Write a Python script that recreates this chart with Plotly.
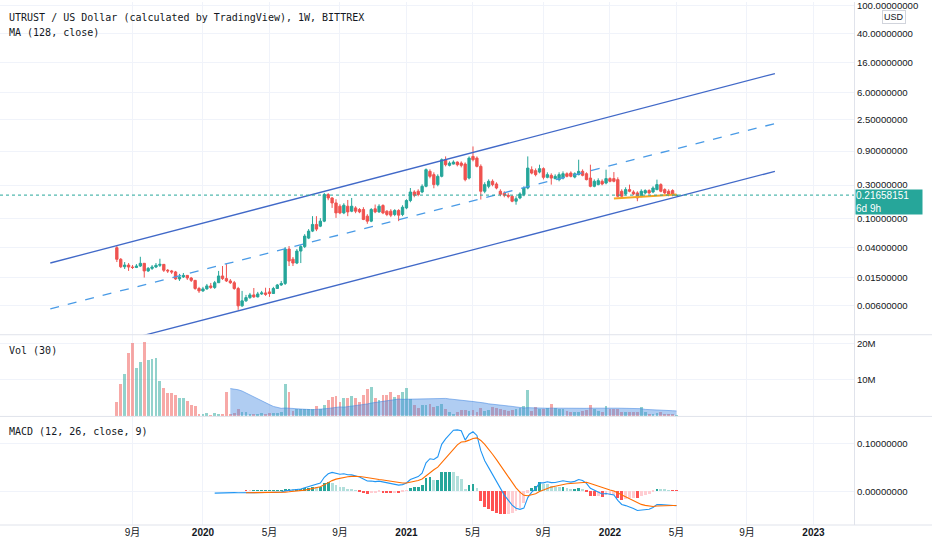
import numpy as np
import pandas as pd
import plotly.graph_objects as go
from plotly.subplots import make_subplots

# ---------------- data (weekly) ----------------
first_week = "2019-08-05"

open_ = [0.0394, 0.0271, 0.0213, 0.0225, 0.0211, 0.0208, 0.0218, 0.0238, 0.0186, 0.0202,
         0.0211, 0.0223, 0.0230, 0.0190, 0.0186, 0.0180, 0.01435, 0.0153, 0.0161, 0.0148,
         0.0137, 0.01053, 0.00974, 0.0104, 0.01145, 0.0109, 0.0127, 0.0158, 0.0145, 0.01345,
         0.0127, 0.01053, 0.00601, 0.00706, 0.00784, 0.00856, 0.00803, 0.00883, 0.00913, 0.00943,
         0.00895, 0.01053, 0.0118, 0.0124, 0.0378, 0.0272, 0.0240, 0.0354, 0.0409, 0.0538,
         0.0675, 0.0838, 0.0793, 0.0932, 0.2203, 0.1974, 0.1680, 0.1511, 0.1217, 0.1511,
         0.1286, 0.1430, 0.1360, 0.1360, 0.1095, 0.0932, 0.1389, 0.1257, 0.1544, 0.1286,
         0.1286, 0.1156, 0.1316, 0.1156, 0.1430, 0.1817, 0.2395, 0.2451, 0.2395, 0.2880,
         0.4672, 0.4200, 0.3041, 0.3976, 0.6811, 0.5669, 0.5915, 0.6302, 0.6102, 0.5915,
         0.3761, 0.7578, 0.7169, 0.5489, 0.2451, 0.2880, 0.3384, 0.3103, 0.2451, 0.2302,
         0.2150, 0.2086, 0.1776, 0.1974, 0.2203, 0.2725, 0.4934, 0.4780, 0.4565, 0.5100,
         0.3850, 0.4106, 0.3694, 0.3574, 0.3761, 0.4326, 0.4420, 0.3885, 0.4200, 0.4672,
         0.4326, 0.3761, 0.2880, 0.3041, 0.3384, 0.3201, 0.3694, 0.3694, 0.3574, 0.2451,
         0.2248, 0.2588, 0.2395, 0.2324, 0.2086, 0.2324, 0.2507, 0.2395, 0.2588, 0.3041,
         0.2588, 0.2451, 0.2507, 0.2130]

high = [0.0416, 0.0282, 0.0248, 0.0240, 0.0225, 0.0232, 0.0294, 0.0240, 0.0211, 0.0225,
        0.0240, 0.0276, 0.0232, 0.0198, 0.0192, 0.0186, 0.0169, 0.0174, 0.0163, 0.0153,
        0.0139, 0.0111, 0.0111, 0.0122, 0.0126, 0.01345, 0.0186, 0.0218, 0.0232, 0.0143,
        0.01345, 0.0111, 0.00974, 0.00856, 0.00913, 0.0107, 0.00943, 0.00974, 0.0108, 0.0107,
        0.0111, 0.0122, 0.01345, 0.0403, 0.0416, 0.0292, 0.0378, 0.0430, 0.0612, 0.0720,
        0.1095, 0.1095, 0.1027, 0.2324, 0.2304, 0.2020, 0.1894, 0.1611, 0.1665, 0.1850,
        0.1974, 0.1511, 0.1420, 0.1464, 0.1168, 0.1420, 0.1596, 0.1611, 0.1611, 0.1328,
        0.1372, 0.1372, 0.1372, 0.1560, 0.1894, 0.2725, 0.2531, 0.2614, 0.3072, 0.5134,
        0.4983, 0.4524, 0.4244, 0.7096, 0.7578, 0.6450, 0.6661, 0.6450, 0.6450, 0.6246,
        0.7578, 1.046, 0.7578, 0.5855, 0.3276, 0.3600, 0.3600, 0.3276, 0.2614, 0.2451,
        0.2302, 0.2150, 0.2086, 0.2373, 0.2880, 0.7578, 0.5489, 0.5134, 0.5797, 0.5315,
        0.4524, 0.4380, 0.4244, 0.4524, 0.4672, 0.4524, 0.4672, 0.4524, 0.6811, 0.4983,
        0.4524, 0.5797, 0.3600, 0.3729, 0.3600, 0.4934, 0.3850, 0.4565, 0.3850, 0.2614,
        0.2789, 0.3041, 0.2531, 0.2451, 0.2614, 0.2614, 0.2614, 0.2880, 0.3574, 0.3175,
        0.2700, 0.2614, 0.2614, 0.2220]

low = [0.0248, 0.0204, 0.0198, 0.0186, 0.0198, 0.0204, 0.0211, 0.0150, 0.0180, 0.0192,
       0.0204, 0.0211, 0.0180, 0.0174, 0.0169, 0.0139, 0.01345, 0.0148, 0.0139, 0.0130,
       0.0101, 0.00913, 0.00943, 0.0101, 0.0104, 0.0104, 0.0126, 0.0139, 0.0130, 0.0122,
       0.0101, 0.00528, 0.00582, 0.00684, 0.00753, 0.00777, 0.0079, 0.00856, 0.00829, 0.00803,
       0.00884, 0.0104, 0.01145, 0.0118, 0.0218, 0.0218, 0.0232, 0.0240, 0.0390, 0.0521,
       0.0654, 0.0675, 0.0768, 0.0902, 0.1834, 0.1430, 0.1036, 0.1168, 0.1168, 0.1095,
       0.1245, 0.1206, 0.1206, 0.0963, 0.0855, 0.0902, 0.1206, 0.1220, 0.1168, 0.1095,
       0.1060, 0.1095, 0.0932, 0.1095, 0.1372, 0.1720, 0.2020, 0.2086, 0.2302, 0.2789,
       0.3729, 0.2700, 0.2880, 0.3850, 0.5489, 0.5489, 0.5855, 0.5489, 0.5315, 0.3384,
       0.3600, 0.6450, 0.5315, 0.1876, 0.2302, 0.2700, 0.2880, 0.2614, 0.2086, 0.2020,
       0.1956, 0.1720, 0.1587, 0.1894, 0.2086, 0.2614, 0.4244, 0.3976, 0.4380, 0.3600,
       0.3729, 0.3041, 0.3600, 0.3384, 0.3600, 0.3850, 0.3850, 0.3729, 0.4106, 0.3976,
       0.3495, 0.2789, 0.2789, 0.2974, 0.2974, 0.3072, 0.3276, 0.3276, 0.2020, 0.1974,
       0.2150, 0.2373, 0.2150, 0.1776, 0.2020, 0.2220, 0.2220, 0.2302, 0.2531, 0.2373,
       0.2220, 0.2086, 0.2086, 0.2086]

close_ = [0.0271, 0.0213, 0.0225, 0.0211, 0.0208, 0.0218, 0.0238, 0.0186, 0.0202, 0.0211,
          0.0223, 0.0230, 0.0190, 0.0186, 0.0180, 0.01435, 0.0153, 0.0161, 0.0148, 0.0137,
          0.01053, 0.00974, 0.0104, 0.01145, 0.0109, 0.0127, 0.0158, 0.0145, 0.01345, 0.0127,
          0.01053, 0.00601, 0.00706, 0.00784, 0.00856, 0.00803, 0.00883, 0.00913, 0.0087, 0.00895,
          0.01053, 0.0118, 0.0124, 0.0378, 0.0256, 0.0240, 0.0354, 0.0409, 0.0574, 0.0675,
          0.0838, 0.0720, 0.0932, 0.2203, 0.1974, 0.1680, 0.1217, 0.1217, 0.1560, 0.1257,
          0.1511, 0.1286, 0.1257, 0.0986, 0.0932, 0.1360, 0.1257, 0.1511, 0.1217, 0.1156,
          0.1131, 0.1316, 0.1131, 0.1464, 0.1817, 0.2395, 0.2150, 0.2203, 0.2880, 0.4934,
          0.3976, 0.3041, 0.3976, 0.6811, 0.5797, 0.6102, 0.6302, 0.5797, 0.5669, 0.3574,
          0.7169, 0.6811, 0.5489, 0.2451, 0.3041, 0.3384, 0.3041, 0.2725, 0.2220, 0.2150,
          0.2086, 0.1776, 0.1925, 0.2248, 0.2725, 0.5193, 0.4420, 0.4200, 0.5100, 0.3850,
          0.4200, 0.3761, 0.3976, 0.4200, 0.4326, 0.3976, 0.3976, 0.4326, 0.4672, 0.4106,
          0.3574, 0.2880, 0.3384, 0.3460, 0.3103, 0.3694, 0.3384, 0.3384, 0.2086, 0.2086,
          0.2588, 0.2451, 0.2248, 0.1974, 0.2451, 0.2507, 0.2324, 0.2725, 0.3041, 0.2451,
          0.2324, 0.2203, 0.2203, 0.21658]

volume_m = [3.89, 8.70, 11.76, 17.6, 20.4, 13.3, 15.0, 20.6, 15.5, 15.7,
            16.1, 9.6, 7.8, 6.2, 6.2, 5.9, 4.8, 5.0, 4.1, 3.1,
            2.8, 0.46, 0.37, 0.65, 0.19, 0.83, 0.56, 0.37, 6.7, 0.56,
            0.65, 2.0, 0.93, 0.93, 0.56, 0.6, 0.55, 0.7, 0.6, 0.75,
            0.8, 0.85, 0.9, 8.8, 6.7, 1.3, 1.85, 2.0, 1.85, 1.85,
            2.0, 2.7, 2.0, 3.1, 4.3, 5.3, 5.4, 3.9, 4.8, 4.8,
            5.4, 5.0, 3.9, 5.9, 7.4, 8.1, 5.0, 4.3, 5.7, 5.9,
            6.5, 5.3, 5.9, 6.5, 7.6, 4.6, 3.0, 2.2, 3.0, 3.1,
            3.2, 2.5, 2.8, 3.4, 1.85, 0.93, 0.56, 1.1, 1.7, 1.5,
            1.3, 1.6, 1.1, 2.2, 1.3, 1.5, 2.5, 2.2, 1.85, 1.5,
            1.3, 1.6, 2.0, 2.2, 2.8, 7.1, 1.3, 2.5, 1.85, 1.85,
            2.2, 3.4, 2.2, 2.0, 2.0, 1.3, 1.1, 0.93, 1.1, 1.3,
            1.6, 3.0, 1.85, 1.3, 0.93, 2.8, 1.85, 1.85, 1.85, 0.93,
            0.93, 1.1, 1.1, 0.93, 2.4, 0.93, 0.56, 0.56, 0.75, 0.93,
            0.56, 0.56, 0.37, 0.3]

last_price = 0.21658151
countdown = "6d 9h"

# channel drawn on the chart (two anchor points per line)
channel_dates = ["2019-04-08", "2022-10-25"]
channel_upper = [0.02404, 11.09]
channel_mid = [0.005453, 2.196]
channel_lower = [0.001052, 0.467]

price_ticks = [100, 40, 16, 6, 2.5, 0.9, 0.3, 0.1, 0.04, 0.015, 0.006]
vol_ticks = [10e6, 20e6]
vol_tick_text = ["10M", "20M"]
macd_ticks = [0.0, 0.1]
x_tick_dates = ["2019-09-02", "2020-01-06", "2020-05-04", "2020-09-07", "2021-01-04",
                "2021-05-03", "2021-09-06", "2022-01-03", "2022-05-02", "2022-09-05", "2023-01-02"]
x_tick_text = ["9月", "<b>2020</b>", "5月", "9月", "<b>2021</b>", "5月", "9月",
               "<b>2022</b>", "5月", "9月", "<b>2023</b>"]

# ---------------- derived series (indicators) ----------------
dates = pd.date_range(first_week, periods=len(close_), freq="7D")
c = pd.Series(close_, index=dates)
vol = pd.Series(volume_m, index=dates) * 1e6


def ema(s, n):
    vals = s.values.astype(float)
    out = np.full(len(vals), np.nan)
    valid = np.where(~np.isnan(vals))[0]
    if len(valid) < n:
        return pd.Series(out, index=s.index)
    st = valid[0]
    out[st + n - 1] = np.mean(vals[st:st + n])
    a = 2.0 / (n + 1)
    for i in range(st + n, len(vals)):
        out[i] = a * vals[i] + (1 - a) * out[i - 1]
    return pd.Series(out, index=s.index)


macd = ema(c, 12) - ema(c, 26)
signal = ema(macd, 9)
hist = macd - signal
ma128 = c.rolling(128).mean()
vol_ma = vol.rolling(30).mean()

hist_colors = []
prev = np.nan
for h in hist.values:
    if np.isnan(h):
        hist_colors.append("rgba(0,0,0,0)")
    elif h >= 0:
        hist_colors.append("#26A69A" if (not np.isnan(prev) and prev < h) else "#B2DFDB")
    else:
        hist_colors.append("#FFCDD2" if (not np.isnan(prev) and prev < h) else "#FF5252")
    prev = h

vol_colors = ["rgba(38,166,154,0.5)" if cc >= oo else "rgba(239,83,80,0.5)"
              for oo, cc in zip(open_, close_)]

# ---------------- figure ----------------
W, H = 932, 550
PW, PH = 854, 525  # plot area in px
main_bot, vol_bot = 334, 416

fig = make_subplots(rows=3, cols=1, shared_xaxes=True, vertical_spacing=0)

fig.add_trace(go.Candlestick(
    x=dates, open=open_, high=high, low=low, close=close_,
    increasing=dict(line=dict(color="#26a69a", width=1), fillcolor="#26a69a"),
    decreasing=dict(line=dict(color="#ef5350", width=1), fillcolor="#ef5350"),
    whiskerwidth=0, showlegend=False, hoverinfo="skip"), row=1, col=1)

fig.add_trace(go.Scatter(x=dates, y=ma128, mode="lines",
                         line=dict(color="#f5a623", width=1.8), showlegend=False,
                         hoverinfo="skip"), row=1, col=1)

fig.add_trace(go.Scatter(x=channel_dates, y=channel_upper, mode="lines",
                         line=dict(color="#4169c8", width=1.3), showlegend=False,
                         hoverinfo="skip"), row=1, col=1)
fig.add_trace(go.Scatter(x=channel_dates, y=channel_lower, mode="lines",
                         line=dict(color="#4169c8", width=1.3), showlegend=False,
                         hoverinfo="skip"), row=1, col=1)
fig.add_trace(go.Scatter(x=channel_dates, y=channel_mid, mode="lines",
                         line=dict(color="#4a9be6", width=1.3, dash="dash"),
                         showlegend=False, hoverinfo="skip"), row=1, col=1)

# x range (layout)
ref = pd.Timestamp("2019-09-02")
px_per_day = 0.5591
x0 = ref - pd.Timedelta(days=132.5 / px_per_day)
x1 = ref + pd.Timedelta(days=(PW - 132.5) / px_per_day)

fig.add_trace(go.Scatter(x=[x0, x1], y=[last_price, last_price], mode="lines",
                         line=dict(color="#26a69a", width=1, dash="dot"),
                         showlegend=False, hoverinfo="skip"), row=1, col=1)

bar_w = 7 * 86400000 * 0.72
fig.add_trace(go.Bar(x=dates, y=vol, marker=dict(color=vol_colors, line=dict(width=0)),
                     width=bar_w, showlegend=False, hoverinfo="skip"), row=2, col=1)
fig.add_trace(go.Scatter(x=dates, y=vol_ma, mode="lines", fill="tozeroy",
                         fillcolor="rgba(66,135,225,0.42)",
                         line=dict(color="rgba(66,135,225,0.55)", width=1),
                         showlegend=False, hoverinfo="skip"), row=2, col=1)

fig.add_trace(go.Bar(x=dates, y=hist, marker=dict(color=hist_colors, line=dict(width=0)),
                     width=bar_w, showlegend=False, hoverinfo="skip"), row=3, col=1)
fig.add_trace(go.Scatter(x=dates, y=macd, mode="lines", line=dict(color="#2196F3", width=1.1),
                         showlegend=False, hoverinfo="skip"), row=3, col=1)
fig.add_trace(go.Scatter(x=dates, y=signal, mode="lines", line=dict(color="#FF6D00", width=1.1),
                         showlegend=False, hoverinfo="skip"), row=3, col=1)

grid = "#f0f3fa"
axis_font = dict(family="Liberation Sans, Arial, sans-serif", size=9.6, color="#131722")

fig.update_xaxes(range=[x0, x1], tickvals=x_tick_dates, ticktext=x_tick_text,
                 showgrid=True, gridcolor=grid, gridwidth=1, zeroline=False,
                 rangeslider_visible=False, ticks="", showline=False,
                 tickfont=dict(family="Liberation Sans, Noto Sans CJK SC, sans-serif",
                               size=10, color="#131722"))

fig.update_layout(
    yaxis=dict(type="log", domain=[1 - main_bot / PH, 1],
               range=[(146.4 - main_bot) / 71.4, 146.4 / 71.4],
               side="right", tickvals=price_ticks,
               ticktext=[f"{v:.8f}" for v in price_ticks],
               showgrid=True, gridcolor=grid, zeroline=False, ticks="",
               ticklabeloverflow="allow",
               showline=True, linecolor="#e0e3eb", tickfont=axis_font),
    yaxis2=dict(domain=[1 - vol_bot / PH, 1 - main_bot / PH],
                range=[-(vol_bot - 415) / 36 * 1e7, (415 - main_bot) / 36 * 1e7],
                side="right", tickvals=vol_ticks, ticktext=vol_tick_text,
                showgrid=True, gridcolor=grid, zeroline=False, ticks="",
                showline=True, linecolor="#e0e3eb", tickfont=axis_font),
    yaxis3=dict(domain=[0, 1 - vol_bot / PH],
                range=[-(PH - 491) / 480, (491 - vol_bot) / 480],
                side="right", tickvals=macd_ticks,
                ticktext=[f"{v:.8f}" for v in macd_ticks],
                showgrid=True, gridcolor=grid, zeroline=False, ticks="",
                showline=True, linecolor="#e0e3eb", tickfont=axis_font),
)

# pane separators
for yp in [1 - main_bot / PH, 1 - vol_bot / PH, 0]:
    fig.add_shape(type="line", xref="paper", yref="paper", x0=0, x1=1 + 78 / PW,
                  y0=yp, y1=yp, line=dict(color="#e0e3eb", width=1))

mono = dict(family="DejaVu Sans Mono, Liberation Mono, monospace", size=10, color="#131722")
notes = [("UTRUST / US Dollar (calculated by TradingView), 1W, BITTREX", 16),
         ("MA (128, close)", 31), ("Vol (30)", 350), ("MACD (12, 26, close, 9)", 431)]
for txt, ypx in notes:
    fig.add_annotation(text=txt, xref="paper", yref="paper", x=7 / PW, y=1 - ypx / PH,
                       xanchor="left", yanchor="middle", showarrow=False, font=mono)

fig.add_annotation(text="USD", xref="paper", yref="paper", x=894 / PW, y=1 - 15.5 / PH,
                   xanchor="center", yanchor="middle", showarrow=False,
                   font=dict(family="Liberation Sans, Arial, sans-serif", size=9, color="#131722"),
                   bordercolor="#d1d4dc", borderwidth=1, borderpad=1, bgcolor="white")

fig.add_annotation(text=f"{last_price:.8f}<br>{countdown}", xref="paper", yref="y",
                   x=1 + 1 / PW, y=np.log10(last_price), xanchor="left", yanchor="top",
                   yshift=6, showarrow=False, align="left", bgcolor="#26a69a",
                   borderpad=0, width=66, height=24,
                   font=dict(family="Liberation Sans, Arial, sans-serif", size=10, color="white"))

fig.update_layout(width=W, height=H, autosize=False,
                  margin=dict(l=0, r=W - PW, t=0, b=H - PH),
                  paper_bgcolor="white", plot_bgcolor="white",
                  showlegend=False, bargap=0, barmode="overlay", boxgap=0.15)

fig.write_html("out.html", config={"displayModeBar": False},
               post_script="document.body.style.margin='0';document.body.style.padding='0';")
